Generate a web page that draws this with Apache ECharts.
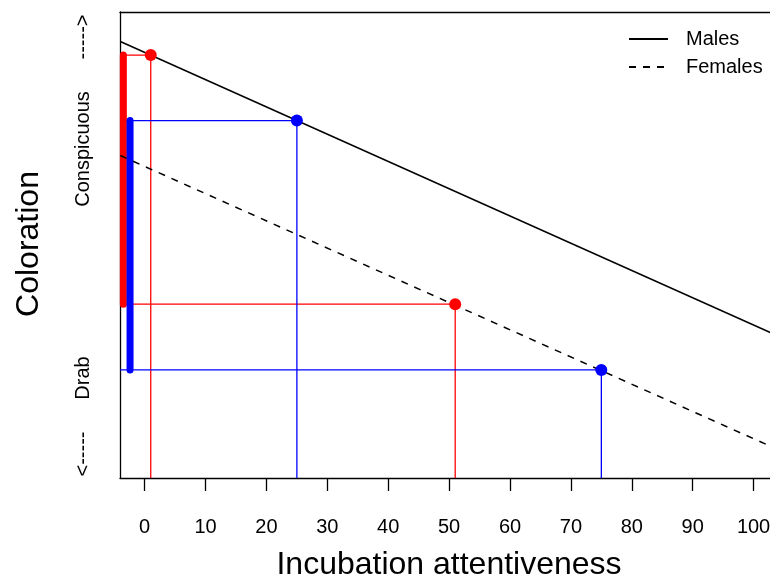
<!DOCTYPE html>
<html>
<head>
<meta charset="utf-8">
<script src="https://cdn.jsdelivr.net/npm/echarts@6/dist/echarts.min.js"></script>
<style>html,body{margin:0;padding:0;background:#fff}#c{width:770px;height:576px}</style>
</head>
<body>
<div id="c"></div>
<script>
// ---- data ----
var xTicks = [0, 10, 20, 30, 40, 50, 60, 70, 80, 90, 100];
var lineX = [-4, 104];
var maleY = [93.67, 30.49];
var femaleY = [69.2, 6.1];
var redX = [1, 51];
var redY = [90.75, 37.3];
var blueX = [25, 75];
var blueY = [76.7, 23.2];
var redBarX = -3.5;
var blueBarX = -2.4;
var yLabels = ['----->', 'Conspicuous', 'Drab', '<-----'];

var X_MIN = -4.05, X_MAX = 102.7, Y_MIN = 0, Y_MAX = 100;
var FONT = 'Liberation Sans, Arial, Helvetica, sans-serif';

function zip(a, b) { return a.map(function (v, i) { return [v, b[i]]; }); }
function connectors(xs, ys) {
  return xs.map(function (x, i) { return [[X_MIN, ys[i]], [x, ys[i]], [x, Y_MIN]]; });
}

var series = [];
function addConnectors(xs, ys, color) {
  connectors(xs, ys).forEach(function (d) {
    series.push({ type: 'line', data: d, symbol: 'none', silent: true,
      lineStyle: { color: color, width: 1.3 }, z: 2 });
  });
}
addConnectors(redX, redY, '#ff0000');
addConnectors(blueX, blueY, '#0000ff');

series.push({ type: 'line', symbol: 'none', silent: true, z: 3,
  data: [[redBarX, Math.min.apply(null, redY)], [redBarX, Math.max.apply(null, redY)]],
  lineStyle: { color: '#ff0000', width: 7, cap: 'round' } });
series.push({ type: 'line', symbol: 'none', silent: true, z: 3,
  data: [[blueBarX, Math.min.apply(null, blueY)], [blueBarX, Math.max.apply(null, blueY)]],
  lineStyle: { color: '#0000ff', width: 7, cap: 'round' } });

series.push({ name: 'Males', type: 'line', symbol: 'none', z: 4, data: zip(lineX, maleY),
  lineStyle: { color: '#000', width: 1.5 }, itemStyle: { color: '#000' } });
series.push({ name: 'Females', type: 'line', symbol: 'none', z: 4, data: zip(lineX, femaleY),
  lineStyle: { color: '#000', width: 1.5, type: [7, 7] }, itemStyle: { color: '#000' } });

series.push({ type: 'scatter', z: 5, symbolSize: 12, data: zip(redX, redY), itemStyle: { color: '#ff0000', opacity: 1 } });
series.push({ type: 'scatter', z: 5, symbolSize: 12, data: zip(blueX, blueY), itemStyle: { color: '#0000ff', opacity: 1 } });

var chart = echarts.init(document.getElementById('c'), null, { renderer: 'canvas' });
var yPos = [37, 149, 378, 454];
chart.setOption({
  animation: false,
  backgroundColor: '#fff',
  textStyle: { fontFamily: FONT },
  grid: { left: 120, top: 12, width: 650, height: 466, show: false, containLabel: false, outerBoundsMode: 'none' },
  legend: {
    data: ['Males', 'Females'], orient: 'vertical', left: 623, top: 24,
    itemWidth: 39, itemHeight: 20, itemGap: 8,
    itemStyle: { opacity: 0 },
    textStyle: { fontSize: 20, color: '#000', fontFamily: FONT, padding: [0, 0, 0, 13] }
  },
  xAxis: [{
    type: 'value', min: X_MIN, max: X_MAX,
    splitLine: { show: false },
    axisLine: { show: true, onZero: false, lineStyle: { color: '#000', width: 1.3 } },
    axisTick: { show: true, inside: false, length: 13, customValues: xTicks, lineStyle: { color: '#000', width: 1.3 } },
    axisLabel: { customValues: xTicks, margin: 39, fontSize: 20, color: '#000', fontFamily: FONT, hideOverlap: false }
  }, {
    type: 'value', position: 'top', min: X_MIN, max: X_MAX,
    splitLine: { show: false },
    axisLine: { show: true, onZero: false, lineStyle: { color: '#000', width: 1.3 } },
    axisTick: { show: false }, axisLabel: { show: false }
  }],
  yAxis: {
    type: 'value', min: Y_MIN, max: Y_MAX,
    splitLine: { show: false },
    axisLine: { show: true, onZero: false, lineStyle: { color: '#000', width: 1.3 } },
    axisTick: { show: false }, axisLabel: { show: false }
  },
  graphic: yLabels.map(function (t, i) {
    return { type: 'text', x: 83, y: yPos[i], rotation: Math.PI / 2,
      style: { text: t, fontSize: 20, fontFamily: FONT, fill: '#000', align: 'center', verticalAlign: 'middle' } };
  }).concat([
    { type: 'text', x: 29, y: 244, rotation: Math.PI / 2,
      style: { text: 'Coloration', fontSize: 32, fontFamily: FONT, fill: '#000', align: 'center', verticalAlign: 'middle' } },
    { type: 'text', x: 449, y: 565,
      style: { text: 'Incubation attentiveness', fontSize: 32, fontFamily: FONT, fill: '#000', align: 'center', verticalAlign: 'middle' } }
  ]),
  series: series
});
</script>
</body>
</html>
